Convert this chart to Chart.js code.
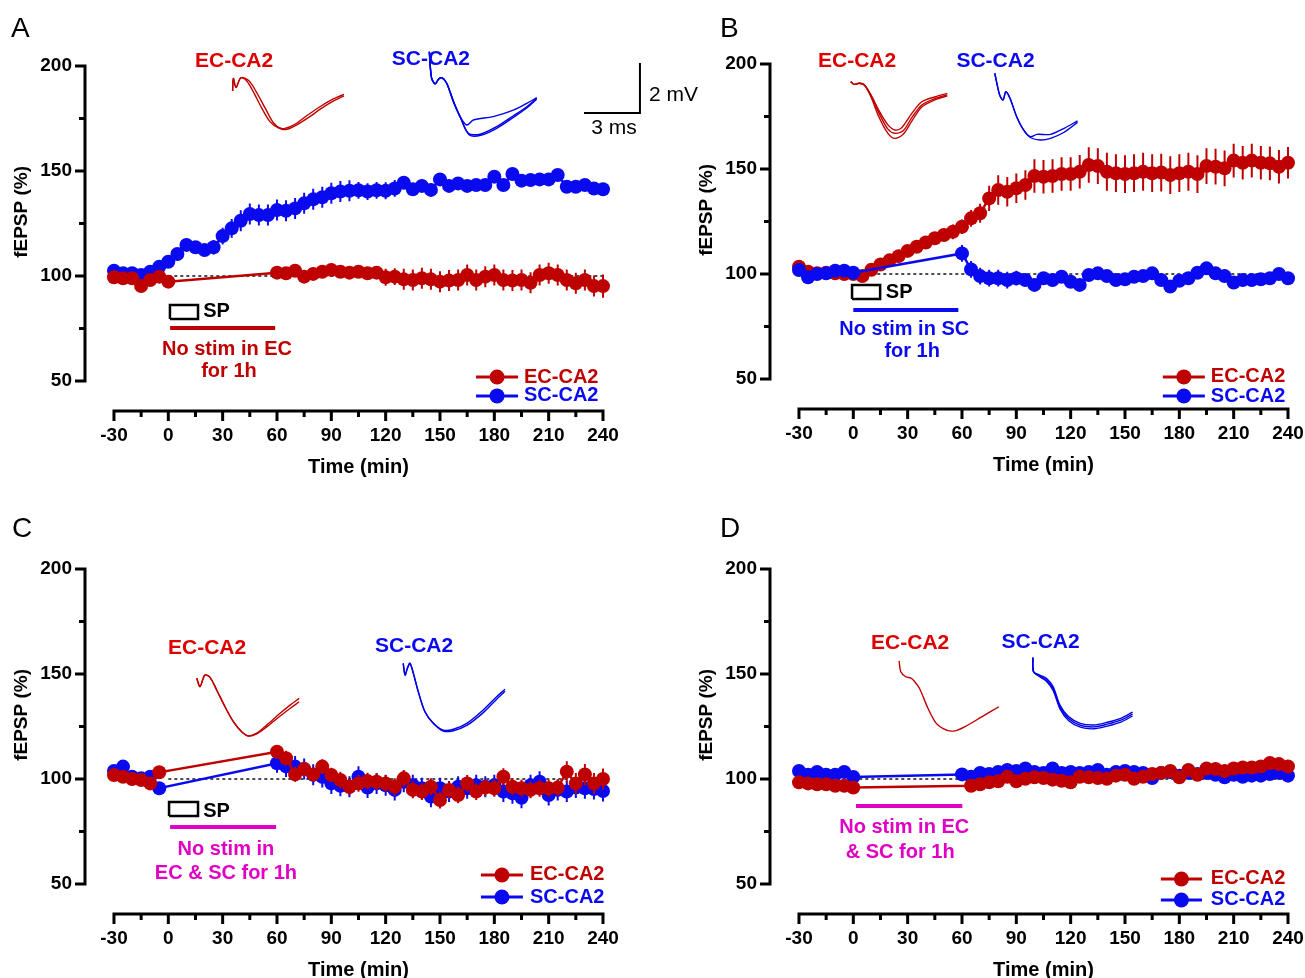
<!DOCTYPE html>
<html>
<head>
<meta charset="utf-8">
<title>fEPSP time course</title>
<style>
body { margin: 0; background: #fff; overflow: hidden; }
#fig { position: relative; width: 1305px; height: 978px; overflow: hidden; }
canvas { position: absolute; }
.letter { position: absolute; font-family: "Liberation Sans", Arial, sans-serif; font-size: 28px; line-height: 28px; color: #000; }
</style>
</head>
<body>
<div id="fig">
  <canvas id="cA" width="700" height="490" style="left:0px;top:0px"></canvas>
  <canvas id="cB" width="625" height="490" style="left:685px;top:-2px"></canvas>
  <canvas id="cC" width="700" height="490" style="left:0px;top:503px"></canvas>
  <canvas id="cD" width="625" height="490" style="left:685px;top:503px"></canvas>
  <div class="letter" style="left:11px;top:14px">A</div>
  <div class="letter" style="left:720px;top:14px">B</div>
  <div class="letter" style="left:12px;top:514px">C</div>
  <div class="letter" style="left:720px;top:514px">D</div>
</div>
<script src="https://cdn.jsdelivr.net/npm/chart.js@4.4.1/dist/chart.umd.min.js"></script>
<script>
// time of each sample (min)
const TIME = [-30, -25, -20, -15, -10, -5, 0,
  5, 10, 15, 20, 25, 30, 35, 40, 45, 50, 55, 60,
  65, 70, 75, 80, 85, 90, 95, 100, 105, 110, 115, 120,
  125, 130, 135, 140, 145, 150, 155, 160, 165, 170, 175, 180,
  185, 190, 195, 200, 205, 210, 215, 220, 225, 230, 235, 240];

const X_TICKS = [-30, 0, 30, 60, 90, 120, 150, 180, 210, 240];
const X_MINOR = [-15, 15, 45, 75, 105, 135, 165, 195, 225];
const Y_TICKS = [50, 100, 150, 200];
const Y_MINOR = [75, 125, 175];

// ---- panel A ----
const A_EC = [99.4, 98.9, 98.9, 95.2, 98.1, 99.7, 97.3,
  null, null, null, null, null, null, null, null, null, null, null, 101.6,
  101.3, 102.5, 99.7, 101.0, 102.0, 102.9, 102.0, 101.6, 102.0, 101.3, 101.6, 99.4,
  99.7, 98.4, 98.1, 98.9, 98.4, 97.3, 97.8, 98.1, 100.5, 98.1, 99.7, 100.5,
  98.1, 97.8, 98.1, 96.8, 100.5, 101.3, 100.5, 98.1, 96.5, 98.1, 95.2, 95.2];
const A_EC_ERR = [2, 2, 2, 2.5, 2, 2, 2,
  0, 0, 0, 0, 0, 0, 0, 0, 0, 0, 0, 3,
  3, 3, 3, 3, 3, 3, 3, 3, 3, 3, 3, 4,
  4, 5, 5, 5, 5, 5, 5, 5, 5, 5, 5, 5,
  5, 5, 5, 5, 5, 5, 5, 5, 5, 5, 5, 5.5];
const A_SC = [102.5, 101.3, 101.3, 100.5, 102.0, 104.4, 106.8,
  110.5, 114.8, 113.7, 112.4, 113.7, 119.0, 122.7, 126.3, 129.5, 129.0, 129.0, 131.4,
  131.1, 132.2, 134.6, 136.5, 137.5, 139.4, 140.2, 140.6, 140.8, 140.2, 140.8, 140.6,
  141.7, 144.4, 141.3, 142.9, 141.0, 146.0, 142.9, 144.1, 142.9, 143.3, 143.3, 147.3,
  143.3, 148.6, 145.4, 145.7, 146.0, 146.0, 148.1, 142.5, 142.5, 143.3, 141.7, 141.3];
const A_SC_ERR = [1, 1, 1, 1, 1, 1.5, 2,
  2.5, 3, 3, 3, 3.5, 4, 4.5, 5, 5, 5, 5, 5,
  5, 5, 5, 5, 5, 5, 5, 5, 4, 4, 4, 4,
  4, 3, 3, 3, 3, 2.5, 2.5, 2, 2, 2, 2, 2,
  2, 2, 2, 2, 2, 2, 2, 1.5, 1.5, 1.5, 1.5, 1.5];

// ---- panel B ----
const B_EC = [103.5, 101.1, 100.3, 100.6, 100.3, 100.0, 100.0,
  99.0, 102.0, 104.5, 106.5, 108.5, 111.0, 113.0, 115.0, 117.0, 118.6, 120.1, 122.5,
  126.5, 128.9, 136.0, 140.0, 139.2, 140.8, 142.4, 146.7, 146.3, 146.7, 147.6, 147.6,
  148.7, 151.9, 151.4, 148.7, 148.0, 147.6, 148.0, 148.7, 148.0, 148.3, 147.1, 148.0,
  148.7, 147.6, 151.4, 151.1, 150.3, 154.0, 153.0, 154.0, 153.0, 152.7, 151.1, 153.0];
const B_EC_ERR = [2, 1.5, 1.5, 1.5, 1.5, 1.5, 1.5,
  2, 2, 2, 2, 2.5, 2.5, 2.5, 3, 3, 3, 3.5, 3.5,
  4, 4.5, 6, 7, 7, 7, 7, 8, 8, 8, 8, 8,
  8, 8.5, 8.5, 9, 9, 9, 9, 9, 9, 9, 9, 9,
  9, 9, 8.5, 8.5, 8.5, 8, 8, 8, 8, 8, 8, 7.5];
const B_SC = [101.9, 98.4, 100.0, 100.3, 101.6, 101.6, 100.6,
  null, null, null, null, null, null, null, null, null, null, null, 109.8,
  102.2, 99.0, 98.0, 98.0, 97.1, 98.0, 97.1, 94.8, 98.0, 97.1, 98.7, 96.3,
  94.8, 99.5, 100.3, 99.0, 97.1, 97.5, 98.7, 99.0, 100.3, 97.1, 94.0, 96.8,
  98.0, 100.6, 102.7, 100.3, 99.0, 95.9, 97.1, 97.1, 97.5, 98.0, 100.0, 98.0];
const B_SC_ERR = [1.5, 1.5, 1.5, 1.5, 1.5, 1.5, 1.5,
  0, 0, 0, 0, 0, 0, 0, 0, 0, 0, 0, 4,
  4, 4, 4, 4, 4, 3.5, 3, 3, 3, 3, 3, 3,
  3, 2.5, 2.5, 2.5, 2.5, 2.5, 2.5, 2.5, 2.5, 2.5, 2.5, 2.5,
  2.5, 2.5, 2.5, 2.5, 2.5, 2.5, 2.5, 2.5, 2.5, 2.5, 2.5, 2.5];

// ---- panel C ----
const C_EC = [101.9, 101.1, 100.0, 99.5, 97.9, 103.2, null,
  null, null, null, null, null, null, null, null, null, null, null, 113.0,
  109.9, 102.2, 104.8, 102.2, 105.9, 101.9, 99.5, 96.3, 97.9, 99.0, 98.7, 97.9,
  96.3, 100.3, 94.8, 94.0, 96.3, 90.0, 94.8, 92.4, 97.9, 94.0, 95.9, 95.6,
  101.1, 96.3, 95.6, 94.8, 95.6, 95.6, 95.9, 103.5, 97.9, 102.2, 97.9, 100.0];
const C_EC_ERR = [1.5, 1.5, 1.5, 1.5, 1.5, 2, 0,
  0, 0, 0, 0, 0, 0, 0, 0, 0, 0, 0, 3,
  3.5, 3.5, 3.5, 3.5, 3.5, 3.5, 4, 4, 4, 4, 4, 4,
  4, 4, 4, 4, 4, 4, 4, 4, 4, 4, 4, 4,
  4, 4, 4, 4, 4, 4, 4, 5, 5, 5, 5, 5];
const C_SC = [103.8, 105.9, 101.1, 100.3, 101.1, 95.6, null,
  null, null, null, null, null, null, null, null, null, null, null, 107.5,
  106.0, 105.9, 104.8, 102.0, 101.0, 97.9, 96.8, 96.3, 101.1, 95.9, 97.9, 97.0,
  94.8, 98.7, 97.0, 95.6, 91.6, 95.6, 94.0, 96.3, 95.6, 97.0, 96.3, 97.0,
  94.0, 93.2, 91.1, 97.0, 98.7, 92.4, 94.8, 94.0, 95.9, 95.6, 95.2, 94.3];
const C_SC_ERR = [1.5, 1.5, 1.5, 1.5, 1.5, 2, 0,
  0, 0, 0, 0, 0, 0, 0, 0, 0, 0, 0, 4.5,
  5, 5, 5, 5, 5, 5, 5, 5, 5, 5, 5, 5,
  5, 5, 5, 5, 5, 5, 5, 5, 5, 5, 5, 5,
  5, 5, 5, 5, 5, 5, 5, 5, 5, 5, 5, 5];

// ---- panel D ----
const D_EC = [98.4, 97.9, 97.5, 97.5, 96.8, 96.8, 95.9,
  null, null, null, null, null, null, null, null, null, null, null, null,
  96.8, 97.5, 98.4, 98.9, 101.1, 98.9, 100.1, 100.8, 100.5, 99.7, 99.2, 98.4,
  101.1, 100.8, 100.5, 100.1, 101.6, 102.0, 100.1, 101.1, 102.4, 102.9, 103.8, 100.8,
  104.3, 102.0, 105.0, 104.8, 103.8, 105.0, 105.5, 105.5, 106.0, 107.6, 107.1, 106.0];
const D_SC = [103.8, 102.0, 103.3, 102.0, 102.0, 103.3, 101.0,
  null, null, null, null, null, null, null, null, null, null, null, 102.2,
  101.1, 102.9, 102.4, 103.3, 104.3, 103.8, 105.0, 103.3, 102.9, 105.0, 102.9, 103.3,
  102.9, 103.3, 104.3, 102.0, 103.3, 103.8, 103.3, 102.9, 100.5, 102.9, 103.3, 101.6,
  102.9, 102.4, 102.9, 102.0, 100.8, 102.0, 101.1, 101.6, 101.6, 102.4, 102.9, 101.6];

// example fEPSP sweeps, placed in the plot's own units (min, %)
const A_EC_TRACE_1 = [[35.5,188.1],[35.9,194.1],[37.4,189.7],[40.0,194.4],[43.3,192.9],[46.9,187.8],[51.6,179.9],[56.1,173.5],[60.7,170.6],[64.4,170.3],[69.9,172.2],[76.4,176.3],[83.7,180.6],[91.1,184.3],[97.0,186.5]];
const A_EC_TRACE_2 = [[35.5,188.1],[35.9,194.1],[37.4,189.7],[40.0,194.4],[44.5,193.0],[48.5,187.8],[53.5,179.9],[58.0,173.0],[62.5,170.0],[66.0,170.0],[71.0,172.0],[77.5,175.5],[84.5,179.8],[91.5,183.5],[97.0,185.8]];
const A_SC_TRACE_1 = [[144.1,206.8],[145.3,194.5],[147.3,191.5],[149.3,193.8],[151.2,194.3],[153.7,191.8],[157.4,183.0],[161.1,175.9],[164.8,171.9],[168.4,174.3],[179.4,175.9],[190.5,179.0],[197.9,182.2],[203.4,184.9]];
const A_SC_TRACE_2 = [[144.1,206.8],[145.3,194.5],[147.3,191.5],[149.3,193.8],[151.2,194.3],[153.7,191.8],[157.4,183.0],[161.1,175.9],[165.6,168.0],[172.1,167.5],[181.3,171.1],[190.5,176.3],[197.9,180.6],[203.4,184.6]];
const A_SC_TRACE_3 = [[144.1,206.8],[145.3,194.5],[147.3,191.5],[149.3,193.8],[151.2,194.3],[153.7,191.8],[157.8,182.5],[161.5,175.0],[166.2,167.2],[172.5,167.0],[181.3,170.3],[190.5,175.5],[197.9,180.0],[203.4,184.2]];

const B_EC_TRACE_1 = [[-1.4,191.6],[0.4,190.3],[3.2,190.8],[6.1,190.0],[9.8,185.2],[14.5,177.3],[19.1,171.0],[22.9,168.6],[26.7,169.7],[32.3,176.5],[37.8,182.0],[45.3,184.4],[51.9,186.0]];
const B_EC_TRACE_2 = [[-1.4,191.6],[0.4,190.3],[3.2,190.8],[6.1,190.0],[9.8,184.8],[14.5,176.0],[19.1,169.0],[22.9,167.0],[27.5,168.2],[32.3,174.5],[37.8,180.5],[45.3,183.6],[51.9,185.3]];
const B_EC_TRACE_3 = [[-1.4,191.6],[0.4,190.3],[3.2,190.8],[6.1,190.0],[9.8,184.3],[14.0,175.0],[19.1,167.0],[22.9,164.6],[27.5,166.5],[32.3,172.8],[37.8,179.5],[45.3,183.0],[51.9,184.8]];
const B_SC_TRACE_1 = [[78.1,195.6],[80.8,185.2],[82.7,182.9],[84.2,186.8],[86.5,183.7],[90.2,174.9],[94.0,168.6],[97.7,165.4],[101.4,166.5],[108.9,166.5],[116.4,169.4],[123.8,172.9]];
const B_SC_TRACE_2 = [[78.1,195.6],[80.8,185.2],[82.7,182.9],[84.2,186.8],[86.5,183.7],[90.2,174.9],[94.0,168.6],[97.7,165.0],[103.3,163.8],[108.9,164.6],[116.4,167.5],[123.8,172.2]];

const C_EC_TRACE_1 = [[15.7,148.0],[17.5,144.0],[20.2,149.5],[23.0,148.4],[26.7,142.4],[31.3,134.4],[35.9,127.3],[40.5,122.5],[44.2,120.5],[48.8,121.8],[54.3,125.7],[61.7,131.3],[67.2,135.2],[72.3,138.4]];
const C_EC_TRACE_2 = [[15.7,148.0],[17.5,144.0],[20.2,149.5],[23.0,148.4],[26.7,142.4],[31.3,134.4],[35.9,127.3],[40.5,122.5],[44.2,120.5],[48.8,121.5],[54.3,124.8],[61.7,130.0],[67.2,133.6],[72.3,136.8]];
const C_SC_TRACE_1 = [[129.7,155.1],[130.7,149.5],[132.0,152.7],[133.4,155.1],[135.3,150.3],[138.0,141.6],[141.7,132.0],[146.3,126.5],[151.8,123.3],[157.4,123.7],[164.8,126.5],[173.9,132.9],[181.3,139.2],[185.9,142.7]];
const C_SC_TRACE_2 = [[129.7,155.1],[130.7,149.5],[132.0,152.7],[133.4,155.1],[135.3,150.3],[138.0,141.6],[141.7,132.0],[146.3,126.5],[151.8,122.8],[157.4,123.0],[164.8,125.5],[173.9,131.6],[181.3,138.0],[185.9,141.8]];

const D_EC_TRACE_1 = [[25.3,156.2],[26.2,151.1],[29.0,148.7],[31.8,148.0],[33.6,146.7],[36.5,143.2],[41.2,133.7],[45.8,126.5],[51.4,123.3],[56.1,122.9],[61.7,124.9],[71.1,129.7],[80.4,134.4]];
const D_SC_TRACE_1 = [[99.1,157.8],[99.5,151.1],[102.9,149.5],[106.6,148.0],[110.3,144.0],[114.1,135.2],[118.8,129.7],[125.3,126.5],[132.8,125.7],[140.2,127.0],[147.7,128.9],[154.2,131.8]];
const D_SC_TRACE_2 = [[99.1,157.8],[99.5,151.1],[102.9,149.1],[106.6,147.3],[110.3,143.1],[114.1,134.3],[118.8,128.8],[125.3,125.6],[132.8,124.8],[140.2,126.1],[147.7,128.0],[154.2,130.9]];
const D_SC_TRACE_3 = [[99.1,157.8],[99.5,151.1],[102.9,148.7],[106.6,146.5],[110.3,142.2],[114.1,133.4],[118.8,127.9],[125.3,124.7],[132.8,123.9],[140.2,125.2],[147.7,127.1],[154.2,130.0]];

const FONT = '"Liberation Sans", Arial, sans-serif';
const RED = '#bf0000';
const RED_LABEL = '#de0000';
const BLUE = '#0a0af0';
const MAGENTA = '#e000c4';

const panels = [
  {
    canvas: 'cA', padRight: 97, topSeries: 'ec',
    ec: A_EC, ecErr: A_EC_ERR, sc: A_SC, scErr: A_SC_ERR,
    ecTraces: [A_EC_TRACE_1, A_EC_TRACE_2], scTraces: [A_SC_TRACE_1, A_SC_TRACE_2, A_SC_TRACE_3],
    box: [0.9, 16.4, 79.5, 86.2],
    bar: { x1: 1, x2: 59, y: 75.2, color: RED },
    // drawn from the top down so the library keeps every point
    scaleBar: [[260.4, 201.4], [260.4, 177.6], [229.5, 177.6]],
    notes: [
      { t: 'EC-CA2', x: 36.3, y: 202.4, c: RED_LABEL, s: 21, w: 'bold' },
      { t: 'SC-CA2', x: 145, y: 203.3, c: BLUE, s: 21, w: 'bold' },
      { t: 'SP', x: 26.6, y: 82.9, c: '#000', s: 20, w: 'bold' },
      { t: 'No stim in EC', x: 32.4, y: 64.8, c: RED, s: 20, w: 'bold' },
      { t: 'for 1h', x: 33.5, y: 54.3, c: RED, s: 20, w: 'bold' },
      { t: '2 mV', x: 265.4, y: 186.2, c: '#000', s: 21, w: 'normal', a: 'left' },
      { t: '3 ms', x: 246.1, y: 170.5, c: '#000', s: 21, w: 'normal' }
    ],
    legend: { x1: 169.9, x2: 193.1, tx: 196.4, y1: 51.9, y2: 42.9 }
  },
  {
    canvas: 'cB', padRight: 22, topSeries: 'sc',
    ec: B_EC, ecErr: B_EC_ERR, sc: B_SC, scErr: B_SC_ERR,
    ecTraces: [B_EC_TRACE_1, B_EC_TRACE_2, B_EC_TRACE_3], scTraces: [B_SC_TRACE_1, B_SC_TRACE_2],
    box: [-0.7, 14.8, 88.1, 94.8],
    bar: { x1: 0, x2: 58, y: 82.9, color: BLUE },
    notes: [
      { t: 'EC-CA2', x: 2.1, y: 201.4, c: RED_LABEL, s: 21, w: 'bold' },
      { t: 'SC-CA2', x: 78.5, y: 201.4, c: BLUE, s: 21, w: 'bold' },
      { t: 'SP', x: 25.3, y: 91, c: '#000', s: 20, w: 'bold' },
      { t: 'No stim in SC', x: 28.1, y: 73.8, c: BLUE, s: 20, w: 'bold' },
      { t: 'for 1h', x: 32.5, y: 62.9, c: BLUE, s: 20, w: 'bold' }
    ],
    legend: { x1: 170.9, x2: 194.1, tx: 197.4, y1: 51, y2: 41.9 }
  },
  {
    canvas: 'cC', padRight: 97, topSeries: 'ec',
    ec: C_EC, ecErr: C_EC_ERR, sc: C_SC, scErr: C_SC_ERR,
    ecTraces: [C_EC_TRACE_1, C_EC_TRACE_2], scTraces: [C_SC_TRACE_1, C_SC_TRACE_2],
    box: [0.4, 16.4, 82.4, 89],
    bar: { x1: 1, x2: 59.5, y: 77.1, color: MAGENTA },
    notes: [
      { t: 'EC-CA2', x: 21.4, y: 162.4, c: RED_LABEL, s: 21, w: 'bold' },
      { t: 'SC-CA2', x: 135.7, y: 163.3, c: BLUE, s: 21, w: 'bold' },
      { t: 'SP', x: 26.6, y: 84.3, c: '#000', s: 20, w: 'bold' },
      { t: 'No stim in', x: 31.8, y: 66.2, c: MAGENTA, s: 20, w: 'bold' },
      { t: 'EC & SC for 1h', x: 31.8, y: 55.2, c: MAGENTA, s: 20, w: 'bold' }
    ],
    legend: { x1: 172.6, x2: 195.8, tx: 199.7, y1: 54.3, y2: 43.8 }
  },
  {
    canvas: 'cD', padRight: 22, topSeries: 'ec',
    ec: D_EC, ecErr: null, sc: D_SC, scErr: null,
    ecTraces: [D_EC_TRACE_1], scTraces: [D_SC_TRACE_1, D_SC_TRACE_2, D_SC_TRACE_3],
    box: null,
    bar: { x1: 1.5, x2: 60.2, y: 87.1, color: MAGENTA },
    notes: [
      { t: 'EC-CA2', x: 31.4, y: 164.8, c: RED_LABEL, s: 21, w: 'bold' },
      { t: 'SC-CA2', x: 103.4, y: 165.2, c: BLUE, s: 21, w: 'bold' },
      { t: 'No stim in EC', x: 28.1, y: 76.7, c: MAGENTA, s: 20, w: 'bold' },
      { t: '& SC for 1h', x: 25.9, y: 65.2, c: MAGENTA, s: 20, w: 'bold' }
    ],
    legend: { x1: 169.8, x2: 192.5, tx: 197.4, y1: 52.4, y2: 42.4 }
  }
];

function pts(arr) { return arr.map(p => ({ x: p[0], y: p[1] })); }

function series(label, vals, errs, color, order) {
  return {
    label: label,
    data: TIME.map((t, i) => ({ x: t, y: vals[i] })),
    errors: errs,
    borderColor: color, backgroundColor: color,
    borderWidth: 2.5, pointRadius: 7, pointBorderWidth: 0,
    pointBackgroundColor: color, spanGaps: true, clip: false, order: order
  };
}

function plain(points, color, width, order, extra) {
  return Object.assign({
    data: pts(points), borderColor: color, borderWidth: width,
    pointRadius: 0, tension: 0, clip: false, order: order
  }, extra || {});
}

function figurePlugin(p) {
  return {
    id: 'figure',
    beforeDatasetDraw(chart, args) {
      const ds = chart.data.datasets[args.index];
      if (!ds.errors) return;
      const ys = chart.scales.y, ctx = chart.ctx;
      ctx.save();
      ctx.strokeStyle = ds.borderColor;
      ctx.lineWidth = 2;
      ctx.beginPath();
      args.meta.data.forEach((el, i) => {
        const v = ds.data[i].y, e = ds.errors[i];
        if (v == null || !e) return;
        ctx.moveTo(el.x, ys.getPixelForValue(v - e));
        ctx.lineTo(el.x, ys.getPixelForValue(v + e));
      });
      ctx.stroke();
      ctx.restore();
    },
    afterDraw(chart) {
      const ctx = chart.ctx, xs = chart.scales.x, ys = chart.scales.y, ca = chart.chartArea;
      const X = v => xs.getPixelForValue(v), Y = v => ys.getPixelForValue(v);
      ctx.save();
      // axes (y stops at 50, x is set apart below)
      ctx.strokeStyle = '#000';
      ctx.lineWidth = 3;
      ctx.beginPath();
      ctx.moveTo(ca.left, Y(50) + 1.5); ctx.lineTo(ca.left, Y(200) - 1.5);
      Y_TICKS.forEach(v => { ctx.moveTo(ca.left, Y(v)); ctx.lineTo(ca.left - 10, Y(v)); });
      Y_MINOR.forEach(v => { ctx.moveTo(ca.left, Y(v)); ctx.lineTo(ca.left - 6, Y(v)); });
      ctx.moveTo(X(-30) - 1.5, ca.bottom); ctx.lineTo(X(240) + 1.5, ca.bottom);
      X_TICKS.forEach(v => { ctx.moveTo(X(v), ca.bottom); ctx.lineTo(X(v), ca.bottom + 10); });
      X_MINOR.forEach(v => { ctx.moveTo(X(v), ca.bottom); ctx.lineTo(X(v), ca.bottom + 6); });
      ctx.stroke();

      function text(str, px, py, color, size, weight, align) {
        ctx.font = weight + ' ' + size + 'px ' + FONT;
        ctx.fillStyle = color;
        ctx.textAlign = align || 'center';
        ctx.textBaseline = 'middle';
        ctx.fillText(str, px, py);
      }
      // axis titles
      text('Time (min)', X(105), ca.bottom + 56, '#000', 20, 'bold');
      ctx.save();
      ctx.translate(ca.left - 63, Y(130.5));
      ctx.rotate(-Math.PI / 2);
      text('fEPSP (%)', 0, 0, '#000', 19, 'bold');
      ctx.restore();

      p.notes.forEach(n => text(n.t, X(n.x), Y(n.y), n.c, n.s, n.w, n.a));

      // legend
      const L = p.legend;
      [[L.y1, 'EC-CA2', RED], [L.y2, 'SC-CA2', BLUE]].forEach(r => {
        const py = Y(r[0]), x1 = X(L.x1), x2 = X(L.x2);
        ctx.strokeStyle = r[2]; ctx.lineWidth = 3;
        ctx.beginPath(); ctx.moveTo(x1, py); ctx.lineTo(x2, py); ctx.stroke();
        ctx.fillStyle = r[2];
        ctx.beginPath(); ctx.arc((x1 + x2) / 2, py, 7.5, 0, 2 * Math.PI); ctx.fill();
        text(r[1], X(L.tx), py, r[2], 20, 'bold', 'left');
      });
      ctx.restore();
    }
  };
}

function makeChart(p) {
  const ds = [];
  ds.push(plain([[0, 100], [240, 100]], '#000', 1.4, 30, { borderDash: [3, 3] }));
  p.ecTraces.forEach(t => ds.push(plain(t, RED, 1.4, 20, { tension: 0.3 })));
  p.scTraces.forEach(t => ds.push(plain(t, '#0000e6', 1.4, 20, { tension: 0.3 })));
  if (p.box) {
    const b = p.box;
    ds.push(plain([[b[0], b[2]], [b[1], b[2]], [b[1], b[3]], [b[0], b[3]], [b[0], b[2]]], '#000', 2.5, 20, { borderJoinStyle: 'miter' }));
  }
  ds.push(plain([[p.bar.x1, p.bar.y], [p.bar.x2, p.bar.y]], p.bar.color, 4, 20));
  if (p.scaleBar) ds.push(plain(p.scaleBar, '#000', 2, 20, { borderJoinStyle: 'miter' }));
  ds.push(series('EC-CA2', p.ec, p.ecErr, RED, p.topSeries === 'ec' ? 1 : 2));
  ds.push(series('SC-CA2', p.sc, p.scErr, BLUE, p.topSeries === 'sc' ? 1 : 2));

  const tickFont = { family: FONT, size: 19, weight: 'bold' };
  new Chart(document.getElementById(p.canvas), {
    type: 'line',
    data: { datasets: ds },
    options: {
      animation: false,
      responsive: false,
      events: [],
      layout: { padding: { top: 66, left: 0, right: p.padRight, bottom: 0 } },
      plugins: { legend: { display: false }, tooltip: { enabled: false } },
      scales: {
        x: {
          type: 'linear', min: -46, max: 240,
          afterFit(s) { s.height = 79; },
          afterBuildTicks(s) { s.ticks = X_TICKS.map(v => ({ value: v })); },
          grid: { display: true, drawOnChartArea: false, drawTicks: true, tickLength: 10, tickColor: 'rgba(0,0,0,0)' },
          border: { display: false },
          ticks: { font: tickFont, color: '#000', padding: 3, autoSkip: false, maxRotation: 0 }
        },
        y: {
          type: 'linear', min: 50 - 30 / 2.1, max: 200,
          afterFit(s) { s.width = 85; },
          afterBuildTicks(s) { s.ticks = Y_TICKS.map(v => ({ value: v })); },
          grid: { display: true, drawOnChartArea: false, drawTicks: true, tickLength: 10, tickColor: 'rgba(0,0,0,0)' },
          border: { display: false },
          ticks: { font: tickFont, color: '#000', padding: 3 }
        }
      }
    },
    plugins: [figurePlugin(p)]
  });
}

panels.forEach(makeChart);
</script>
</body>
</html>
